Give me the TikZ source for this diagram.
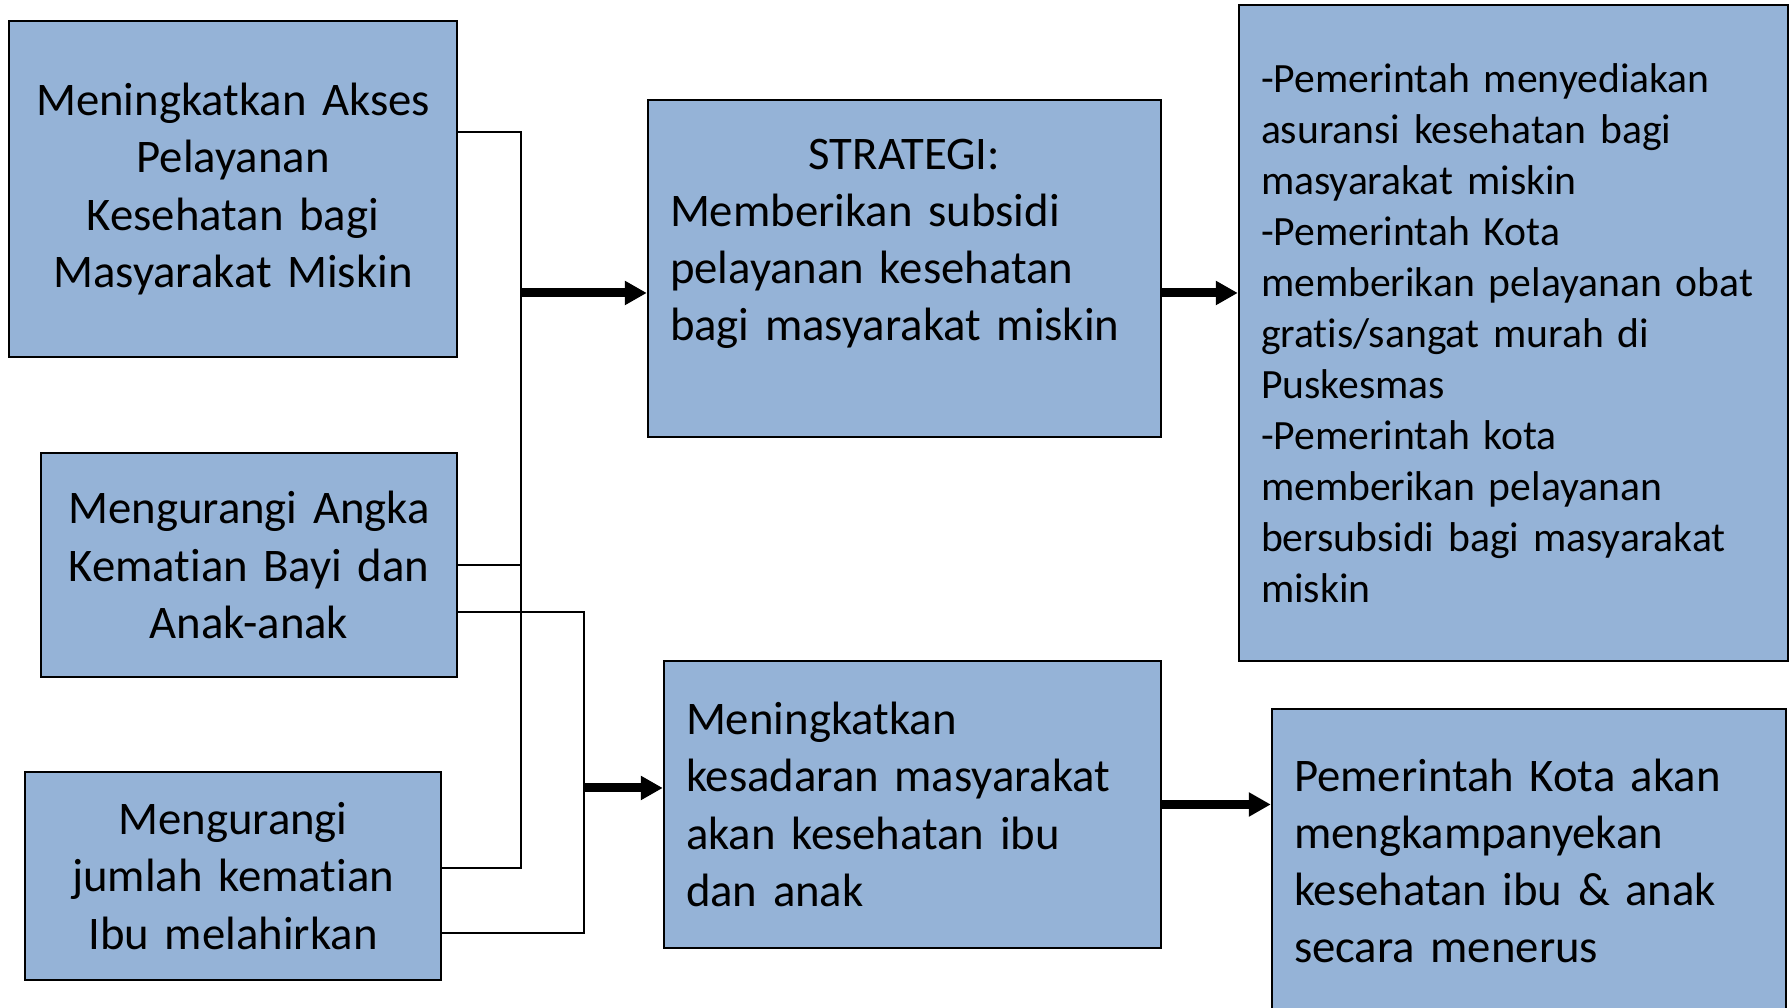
\documentclass[tikz,border=0pt]{standalone}
\usepackage{fontspec}
\setmainfont{Carlito}[Ligatures={NoCommon}]
\usepackage{tikz}
\usetikzlibrary{arrows.meta,positioning,calc}
\definecolor{boxblue}{RGB}{149,179,215}
\newcommand{\bigtxt}{\fontsize{13.3pt}{16.3pt}\selectfont}
\newcommand{\smalltxt}{\fontsize{11.85pt}{14.5pt}\selectfont}

\begin{document}
\begin{tikzpicture}[
  box/.style={draw,line width=0.7pt,fill=boxblue,font=\bigtxt,
    inner xsep=2.2mm,inner ysep=0pt},
  link/.style={line width=0.6pt},
  flow/.style={line width=0.9mm,-{Triangle[length=2.2mm,width=2.3mm]}}
]
  \useasboundingbox (0,0) rectangle (17.89,10.08);
  % Goals on the left
  \node[box,align=center,text width=4.04cm,minimum height=3.36cm] (A) at (2.33,8.19)
    {Meningkatkan Akses\\Pelayanan\\Kesehatan bagi\\Masyarakat Miskin};
  \node[box,align=center,text width=3.72cm,minimum height=2.24cm] (B) at (2.49,4.43)
    {Mengurangi Angka\\Kematian Bayi dan\\Anak-anak};
  \node[box,align=center,text width=3.72cm,minimum height=2.08cm] (C) at (2.33,1.32)
    {Mengurangi\\jumlah kematian\\Ibu melahirkan};
  % Strategies in the middle
  \node[box,align=left,text width=4.69cm,minimum height=3.37cm] (S) at (9.045,7.395)
    {\makebox[\linewidth]{STRATEGI:}\\Memberikan subsidi\\pelayanan kesehatan\\bagi masyarakat miskin\\\mbox{}};
  \node[box,align=left,text width=4.53cm,minimum height=2.87cm] (M) at (9.125,2.035)
    {Meningkatkan\\kesadaran masyarakat\\akan kesehatan ibu\\dan anak};
  % Programs on the right
  \node[box,align=left,font=\smalltxt,text width=5.05cm,minimum height=6.56cm] (R1) at (15.135,6.75)
    {-Pemerintah menyediakan\\asuransi kesehatan bagi\\masyarakat miskin\\-Pemerintah Kota\\memberikan pelayanan obat\\gratis/sangat murah di\\Puskesmas\\-Pemerintah kota\\memberikan pelayanan\\bersubsidi bagi masyarakat\\miskin};
  \node[box,align=left,text width=4.70cm,minimum height=3.04cm] (R2) at (15.29,1.47)
    {Pemerintah Kota akan\\mengkampanyekan\\kesehatan ibu \& anak\\secara menerus};
  % Bus lines
  \coordinate (bus1) at (5.21,4.43);
  \coordinate (bus2) at (5.84,2.20);
  \coordinate (sIn) at ([yshift=-2.45mm]S.west);
  \coordinate (mIn) at ([yshift=1.65mm]M.west);
  \draw[link] ([yshift=5.7mm]A.east) -| (bus1) |- ([yshift=0.8mm]C.east);
  \draw[link] (B.east) -- (B.east -| bus1);
  \draw[link] ([yshift=-4.7mm]B.east) -| (bus2) |- ([yshift=-5.7mm]C.east);
  % Arrows
  \draw[flow] (sIn -| bus1) -- (sIn);
  \draw[flow] (sIn -| S.east) -- (sIn -| R1.west);
  \draw[flow] (mIn -| bus2) -- (mIn);
  \draw[flow] (M.east) -- (M.east -| R2.west);
\end{tikzpicture}
\end{document}
